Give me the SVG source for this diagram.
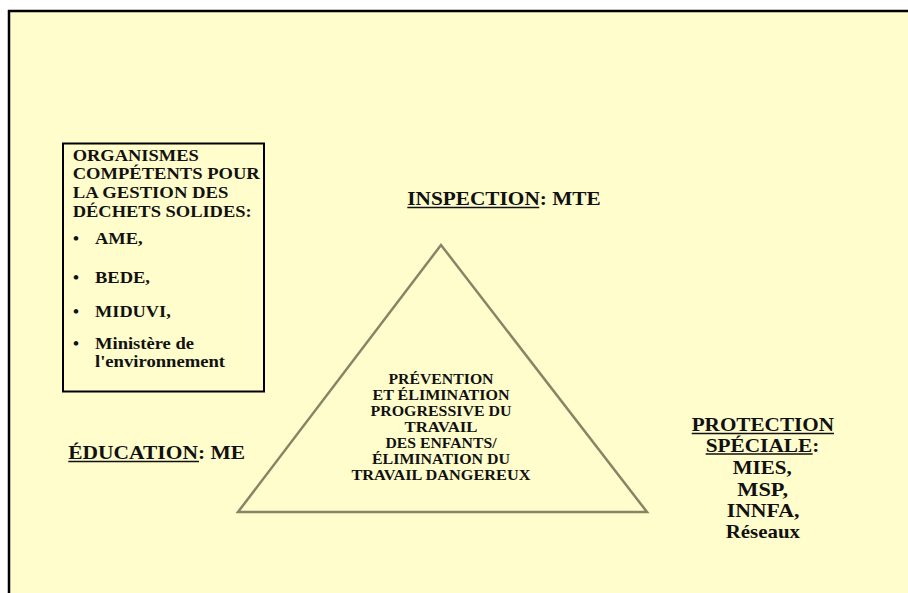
<svg xmlns="http://www.w3.org/2000/svg" width="908" height="593" viewBox="0 0 908 593">
<style>
.t{font-family:"Liberation Serif","Times New Roman",serif;font-weight:bold;fill:#111;}
.b{font-size:17px;}
.c{font-size:15px;text-anchor:middle;}
.l{font-size:19px;}
.u{stroke:#111;stroke-width:1.6;}
</style>
<rect x="0" y="0" width="908" height="593" fill="#ffffff"/>
<rect x="9" y="11" width="899" height="582" fill="#fffdcc"/>
<g id="frame">
<line x1="9" y1="10" x2="9" y2="593" stroke="#000" stroke-width="2.5"/>
<line x1="8" y1="11" x2="908" y2="11" stroke="#000" stroke-width="2.5"/>
</g>
<g id="connectors"></g>
<g id="triangle">
<polygon points="441,245 238,512 647,512" fill="none" stroke="#8a8466" stroke-width="2.5" stroke-linejoin="miter"/>
<text class="t c" x="441" y="384" textLength="105" lengthAdjust="spacingAndGlyphs">PRÉVENTION</text>
<text class="t c" x="441" y="400" textLength="137" lengthAdjust="spacingAndGlyphs">ET ÉLIMINATION</text>
<text class="t c" x="441" y="416" textLength="141" lengthAdjust="spacingAndGlyphs">PROGRESSIVE DU</text>
<text class="t c" x="441" y="432" textLength="73" lengthAdjust="spacingAndGlyphs">TRAVAIL</text>
<text class="t c" x="441" y="447.5" textLength="111" lengthAdjust="spacingAndGlyphs">DES ENFANTS/</text>
<text class="t c" x="441" y="463.5" textLength="138" lengthAdjust="spacingAndGlyphs">ÉLIMINATION DU</text>
<text class="t c" x="441" y="480" textLength="179" lengthAdjust="spacingAndGlyphs">TRAVAIL DANGEREUX</text>
</g>
<g id="organismes">
<rect x="63" y="143.5" width="201" height="248" fill="none" stroke="#000" stroke-width="2"/>
<text class="t b" x="72.7" y="160.7" textLength="126" lengthAdjust="spacingAndGlyphs">ORGANISMES</text>
<text class="t b" x="72.7" y="179.3" textLength="187" lengthAdjust="spacingAndGlyphs">COMPÉTENTS POUR</text>
<text class="t b" x="72.7" y="197.7" textLength="155.7" lengthAdjust="spacingAndGlyphs">LA GESTION DES</text>
<text class="t b" x="72.7" y="216.7" textLength="179" lengthAdjust="spacingAndGlyphs">DÉCHETS SOLIDES:</text>
<text class="t b" x="73" y="244.3">•</text>
<text class="t b" x="95" y="244.3" textLength="47.7" lengthAdjust="spacingAndGlyphs">AME,</text>
<text class="t b" x="73" y="282.7">•</text>
<text class="t b" x="95" y="282.7" textLength="55" lengthAdjust="spacingAndGlyphs">BEDE,</text>
<text class="t b" x="73" y="317.3">•</text>
<text class="t b" x="95" y="317.3" textLength="75.7" lengthAdjust="spacingAndGlyphs">MIDUVI,</text>
<text class="t b" x="73" y="349.3">•</text>
<text class="t b" x="95" y="349.3" textLength="99" lengthAdjust="spacingAndGlyphs">Ministère de</text>
<text class="t b" x="95" y="367.3" textLength="130" lengthAdjust="spacingAndGlyphs">l'environnement</text>
</g>
<g id="inspection">
<text class="t l" x="407.3" y="205" textLength="193.4" lengthAdjust="spacingAndGlyphs">INSPECTION: MTE</text>
<line class="u" x1="407.3" y1="207.5" x2="539.3" y2="207.5"/>
</g>
<g id="education">
<text class="t l" x="68.3" y="459.3" textLength="176.7" lengthAdjust="spacingAndGlyphs">ÉDUCATION: ME</text>
<line class="u" x1="68.3" y1="461.5" x2="199" y2="461.5"/>
</g>
<g id="protection">
<text class="t l" x="691.7" y="431" textLength="142.3" lengthAdjust="spacingAndGlyphs">PROTECTION</text>
<line class="u" x1="691.7" y1="433.5" x2="834" y2="433.5"/>
<text class="t l" x="705.7" y="451.7" textLength="113.6" lengthAdjust="spacingAndGlyphs">SPÉCIALE:</text>
<line class="u" x1="705.7" y1="454" x2="812.7" y2="454"/>
<text class="t l" x="732.7" y="474" textLength="59" lengthAdjust="spacingAndGlyphs">MIES,</text>
<text class="t l" x="737.3" y="495.7" textLength="50.7" lengthAdjust="spacingAndGlyphs">MSP,</text>
<text class="t l" x="726.7" y="516.7" textLength="72.7" lengthAdjust="spacingAndGlyphs">INNFA,</text>
<text class="t l" x="725.7" y="537.7" textLength="74.3" lengthAdjust="spacingAndGlyphs">Réseaux</text>
</g>
</svg>
